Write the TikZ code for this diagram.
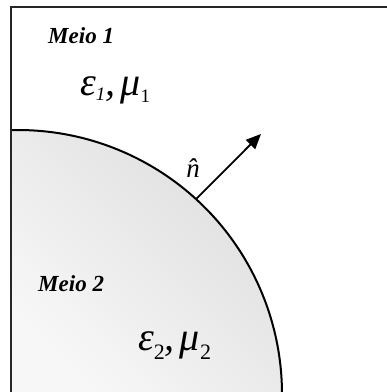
\documentclass[tikz,border=0pt]{standalone}
\usepackage{fontspec}
\setmainfont{Liberation Serif}
\usetikzlibrary{arrows.meta}
\begin{document}
\begin{tikzpicture}[x=1pt,y=-1pt,
  medlabel/.style={font=\fontsize{23}{23}\selectfont\bfseries\itshape, anchor=base west, inner sep=0pt},
  params/.style={font=\fontsize{40}{40}\selectfont\itshape, anchor=base west, inner sep=0pt},
  frameline/.style={line width=1.3pt, black!85},
  boundary/.style={line width=2pt, black},
  normalarrow/.style={line width=1.8pt, -{Triangle[length=15pt,width=13pt]}}
]
\useasboundingbox (0,0) rectangle (387,392);
% medium 2 region (shaded)
\shade[top color=black!13, bottom color=black!3, shading angle=-45]
  (11,392) -- ([shift={(18,394)}]-91.5:264) arc[start angle=-91.5, end angle=-0.4, radius=264] -- cycle;
% boundary
\draw[boundary] ([shift={(18,394)}]-91.5:264) arc[start angle=-91.5, end angle=-0.4, radius=264];
% frame
\draw[frameline] (11,392) -- (11,7) -- (387,7);
% normal vector
\coordinate (base) at ([shift={(18,394)}]-47.6:264);
\coordinate (tip) at (261,134);
\draw[normalarrow] (base) -- (tip);
\node[font=\fontsize{27}{27}\selectfont\itshape, anchor=base, inner sep=0pt] (nhat) at (193,177) {\^{n}};
% labels
\node[medlabel] (m1) at (48,43) {Meio 1};
\node[medlabel] (m2) at (38,291) {Meio 2};
\node[params] (p1) at (80,95) {ε\raisebox{-5pt}{\fontsize{19}{19}\selectfont 1},\hspace{5pt}μ\raisebox{-7pt}{\fontsize{19}{19}\selectfont\upshape 1}};
\node[params] (p2) at (138,350) {ε\raisebox{-9pt}{\fontsize{22}{22}\selectfont\upshape 2},\hspace{5pt}μ\raisebox{-9pt}{\fontsize{22}{22}\selectfont\upshape 2}};
\end{tikzpicture}
\end{document}
